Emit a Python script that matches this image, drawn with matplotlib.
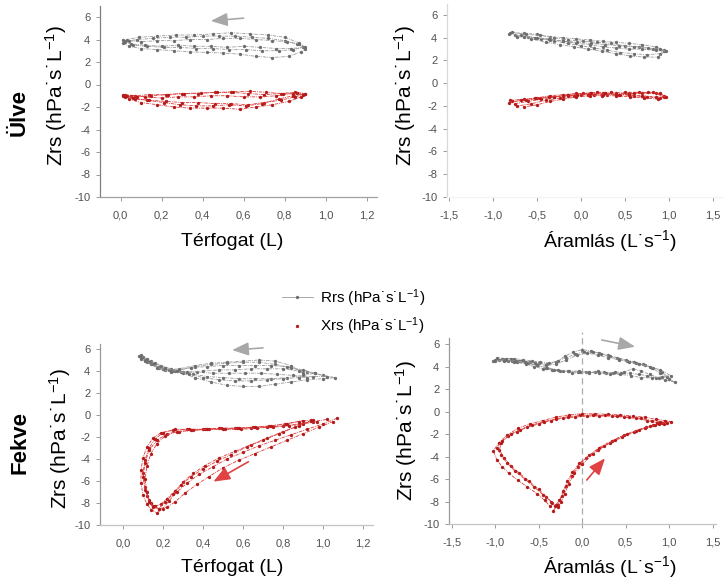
import matplotlib.pyplot as plt
from matplotlib.lines import Line2D
from matplotlib.ticker import FuncFormatter

plt.rcParams['font.family'] = ['Liberation Sans', 'DejaVu Sans']
plt.rcParams['mathtext.default'] = 'regular'
plt.rcParams['axes.unicode_minus'] = False

# --- data: breath loops, each as (x values, y values) ---
# sitting (Ülve), Zrs against volume
ulve_vol_rrs = [
    ([0.01, 0.04, 0.10, 0.18, 0.26, 0.34, 0.42, 0.50, 0.58, 0.66, 0.74, 0.82, 0.88, 0.90,
      0.86, 0.80, 0.72, 0.64, 0.56, 0.48, 0.40, 0.32, 0.24, 0.16, 0.08, 0.02],
     [3.7, 3.4, 3.2, 3.1, 3.0, 2.9, 2.85, 2.8, 2.7, 2.5, 2.4, 2.5, 2.9, 3.2,
      3.6, 3.9, 4.1, 4.2, 4.3, 4.3, 4.3, 4.2, 4.2, 4.1, 4.0, 3.8]),
    ([0.02, 0.06, 0.13, 0.21, 0.29, 0.37, 0.45, 0.53, 0.61, 0.69, 0.77, 0.84, 0.89,
      0.87, 0.81, 0.74, 0.66, 0.58, 0.50, 0.42, 0.34, 0.26, 0.18, 0.10, 0.04],
     [3.9, 3.5, 3.4, 3.3, 3.3, 3.2, 3.2, 3.1, 3.1, 3.0, 3.0, 3.1, 3.3,
      3.6, 3.8, 3.9, 4.0, 4.1, 4.1, 4.0, 4.0, 3.9, 3.9, 3.8, 3.9]),
    ([0.01, 0.05, 0.12, 0.20, 0.28, 0.36, 0.44, 0.52, 0.60, 0.68, 0.76, 0.83, 0.90,
      0.87, 0.80, 0.72, 0.63, 0.54, 0.45, 0.36, 0.27, 0.18, 0.09, 0.03],
     [4.0, 3.6, 3.5, 3.4, 3.5, 3.4, 3.4, 3.3, 3.4, 3.3, 3.2, 3.2, 3.3,
      3.7, 4.2, 4.4, 4.5, 4.6, 4.5, 4.4, 4.4, 4.3, 4.2, 4.0]),
]
ulve_vol_xrs = [
    ([0.01, 0.04, 0.10, 0.18, 0.26, 0.34, 0.42, 0.50, 0.58, 0.66, 0.74, 0.82, 0.88, 0.90,
      0.85, 0.78, 0.70, 0.62, 0.54, 0.46, 0.38, 0.30, 0.22, 0.14, 0.07, 0.02],
     [-1.0, -1.3, -1.6, -1.8, -2.0, -2.1, -2.1, -2.1, -2.2, -2.0, -1.8, -1.5, -1.1, -0.8,
      -0.7, -0.8, -0.9, -0.8, -0.7, -0.7, -0.8, -0.8, -0.9, -0.9, -1.0, -0.9]),
    ([0.02, 0.07, 0.14, 0.22, 0.30, 0.38, 0.46, 0.54, 0.62, 0.70, 0.78, 0.85, 0.89,
      0.84, 0.76, 0.68, 0.60, 0.52, 0.44, 0.36, 0.28, 0.20, 0.12, 0.05],
     [-1.1, -1.3, -1.4, -1.5, -1.6, -1.6, -1.7, -1.7, -1.8, -1.6, -1.4, -1.1, -0.9,
      -0.8, -1.0, -1.1, -1.1, -1.0, -1.0, -1.1, -1.1, -1.2, -1.1, -1.0]),
    ([0.01, 0.06, 0.13, 0.21, 0.29, 0.37, 0.45, 0.53, 0.61, 0.69, 0.77, 0.84, 0.90,
      0.86, 0.79, 0.71, 0.63, 0.55, 0.47, 0.39, 0.31, 0.23, 0.15, 0.08, 0.03],
     [-0.9, -1.2, -1.4, -1.6, -1.8, -1.9, -1.9, -1.8, -1.9, -1.7, -1.3, -1.0, -0.8,
      -0.75, -0.8, -0.7, -0.6, -0.65, -0.7, -0.75, -0.8, -0.9, -1.0, -1.1, -1.0]),
]

# sitting (Ülve), Zrs against flow
ulve_flow_rrs = [
    ([-0.80, -0.65, -0.50, -0.35, -0.20, -0.05, 0.10, 0.25, 0.40, 0.55, 0.70, 0.85, 0.95,
      0.90, 0.75, 0.60, 0.45, 0.30, 0.15, 0.00, -0.15, -0.30, -0.45, -0.60, -0.75],
     [4.4, 4.4, 4.3, 4.1, 4.0, 3.9, 3.8, 3.7, 3.6, 3.5, 3.4, 3.2, 2.9,
      2.6, 2.5, 2.6, 2.7, 2.9, 3.1, 3.3, 3.5, 3.7, 3.9, 4.1, 4.2]),
    ([-0.78, -0.62, -0.46, -0.30, -0.14, 0.02, 0.18, 0.34, 0.50, 0.66, 0.82, 0.95,
      0.88, 0.72, 0.56, 0.40, 0.24, 0.08, -0.08, -0.24, -0.40, -0.56, -0.72],
     [4.5, 4.3, 4.2, 4.0, 3.8, 3.7, 3.6, 3.5, 3.3, 3.2, 3.0, 2.8,
      2.3, 2.3, 2.4, 2.6, 2.8, 3.0, 3.2, 3.4, 3.6, 3.9, 4.1]),
    ([-0.82, -0.68, -0.52, -0.36, -0.20, -0.04, 0.12, 0.28, 0.44, 0.60, 0.76, 0.90, 0.97,
      0.85, 0.70, 0.55, 0.40, 0.25, 0.10, -0.05, -0.20, -0.35, -0.50, -0.65],
     [4.3, 4.2, 4.0, 3.9, 3.7, 3.6, 3.5, 3.4, 3.3, 3.2, 3.1, 3.0, 2.8,
      2.9, 3.0, 3.0, 3.1, 3.2, 3.4, 3.5, 3.7, 3.8, 4.0, 4.1]),
]
ulve_flow_xrs = [
    ([-0.80, -0.65, -0.50, -0.35, -0.20, -0.05, 0.10, 0.25, 0.40, 0.55, 0.70, 0.85, 0.95,
      0.90, 0.75, 0.60, 0.45, 0.30, 0.15, 0.00, -0.15, -0.30, -0.45, -0.60, -0.75],
     [-1.5, -1.4, -1.3, -1.1, -1.0, -0.9, -0.9, -0.9, -0.9, -0.9, -0.9, -0.9, -1.2,
      -1.3, -1.2, -1.1, -1.0, -1.0, -1.0, -1.0, -1.1, -1.2, -1.4, -1.6, -1.8]),
    ([-0.78, -0.62, -0.46, -0.30, -0.14, 0.02, 0.18, 0.34, 0.50, 0.66, 0.82, 0.95,
      0.88, 0.72, 0.56, 0.40, 0.24, 0.08, -0.08, -0.24, -0.40, -0.56, -0.72],
     [-1.6, -1.5, -1.3, -1.2, -1.0, -0.9, -0.8, -0.8, -0.8, -0.8, -0.8, -1.1,
      -1.4, -1.3, -1.2, -1.1, -1.1, -1.0, -1.1, -1.3, -1.5, -1.8, -2.0]),
    ([-0.82, -0.68, -0.52, -0.36, -0.20, -0.04, 0.12, 0.28, 0.44, 0.60, 0.76, 0.90, 0.97,
      0.85, 0.70, 0.55, 0.40, 0.25, 0.10, -0.05, -0.20, -0.35, -0.50, -0.65],
     [-1.7, -1.5, -1.3, -1.2, -1.1, -1.0, -0.9, -0.9, -1.0, -0.9, -0.8, -0.9, -1.2,
      -1.2, -1.1, -1.0, -1.0, -1.0, -1.1, -1.2, -1.4, -1.6, -1.9, -2.1]),
]

# supine (Fekve), Zrs against volume
fekve_vol_rrs = [
    ([0.08, 0.11, 0.15, 0.20, 0.25, 0.30, 0.36, 0.44, 0.52, 0.60, 0.68, 0.76, 0.84, 0.92, 1.00, 1.06,
      1.00, 0.92, 0.84, 0.76, 0.68, 0.60, 0.52, 0.44, 0.36, 0.28, 0.20, 0.14, 0.09],
     [5.4, 5.0, 4.6, 4.2, 4.0, 3.8, 3.4, 3.0, 2.7, 2.6, 2.6, 2.8, 3.0, 3.2, 3.3, 3.4,
      3.6, 3.9, 4.3, 4.6, 4.8, 4.8, 4.7, 4.6, 4.4, 4.1, 4.2, 4.6, 5.1]),
    ([0.09, 0.13, 0.18, 0.23, 0.29, 0.35, 0.42, 0.50, 0.58, 0.66, 0.74, 0.82, 0.90, 0.96,
      0.90, 0.82, 0.74, 0.66, 0.58, 0.50, 0.42, 0.34, 0.26, 0.18, 0.12],
     [5.2, 4.8, 4.4, 4.1, 3.9, 3.7, 3.5, 3.4, 3.3, 3.3, 3.3, 3.4, 3.6, 3.8,
      4.1, 4.4, 4.5, 4.5, 4.5, 4.5, 4.4, 4.3, 4.0, 4.3, 4.8]),
    ([0.10, 0.14, 0.19, 0.24, 0.30, 0.37, 0.45, 0.53, 0.61, 0.69, 0.77, 0.85, 0.92,
      0.90, 0.84, 0.76, 0.68, 0.60, 0.52, 0.44, 0.36, 0.28, 0.21, 0.15],
     [5.3, 4.9, 4.5, 4.2, 3.9, 3.9, 3.8, 3.8, 3.8, 3.8, 3.7, 3.6, 3.4,
      3.8, 4.5, 4.9, 5.0, 4.9, 4.8, 4.7, 4.5, 4.2, 4.1, 4.6]),
    ([0.09, 0.12, 0.16, 0.21, 0.27, 0.33, 0.40, 0.48, 0.56, 0.64, 0.72, 0.80, 0.88, 0.95, 1.02,
      0.96, 0.88, 0.80, 0.72, 0.64, 0.56, 0.48, 0.40, 0.32, 0.24, 0.17, 0.11],
     [5.5, 5.1, 4.7, 4.3, 4.0, 3.7, 3.4, 3.2, 3.1, 3.1, 3.2, 3.3, 3.4, 3.5, 3.5,
      3.8, 4.0, 4.2, 4.2, 4.2, 4.1, 4.1, 4.0, 3.9, 3.9, 4.3, 4.9]),
]
fekve_vol_xrs = [
    ([1.07, 1.00, 0.92, 0.84, 0.76, 0.68, 0.60, 0.52, 0.45, 0.38, 0.32, 0.27, 0.23, 0.20, 0.17, 0.14,
      0.12, 0.10, 0.09, 0.09, 0.10, 0.12, 0.15, 0.19, 0.25, 0.32, 0.40, 0.48, 0.56, 0.64, 0.72,
      0.80, 0.88, 0.95, 1.02],
     [-0.3, -0.8, -1.3, -1.8, -2.3, -2.8, -3.4, -4.0, -4.7, -5.4, -6.2, -7.0, -7.8, -8.5, -8.9, -8.6,
      -8.1, -7.3, -6.2, -5.0, -3.9, -2.9, -2.1, -1.6, -1.4, -1.3, -1.3, -1.2, -1.2, -1.2, -1.1,
      -1.0, -0.8, -0.6, -0.4]),
    ([0.95, 0.88, 0.80, 0.72, 0.64, 0.56, 0.48, 0.41, 0.35, 0.30, 0.26, 0.22, 0.19, 0.16, 0.14, 0.12,
      0.11, 0.10, 0.11, 0.13, 0.16, 0.20, 0.26, 0.33, 0.41, 0.49, 0.57, 0.65, 0.73, 0.81, 0.88, 0.94],
     [-0.45, -1.0, -1.5, -2.1, -2.7, -3.3, -3.9, -4.6, -5.3, -6.1, -6.9, -7.6, -8.1, -8.3, -8.0, -7.4,
      -6.5, -5.3, -4.1, -3.0, -2.2, -1.6, -1.3, -1.3, -1.3, -1.2, -1.2, -1.1, -1.0, -0.8, -0.6, -0.45]),
    ([1.05, 0.98, 0.90, 0.82, 0.74, 0.66, 0.58, 0.50, 0.43, 0.37, 0.31, 0.26, 0.22, 0.18, 0.15, 0.13,
      0.11, 0.10, 0.11, 0.13, 0.17, 0.22, 0.28, 0.35, 0.43, 0.51, 0.59, 0.67, 0.75, 0.83, 0.90, 0.97],
     [-0.6, -1.1, -1.7, -2.3, -2.9, -3.5, -4.1, -4.8, -5.6, -6.3, -7.1, -7.9, -8.4, -8.5, -8.3, -7.7,
      -6.8, -5.6, -4.4, -3.2, -2.3, -1.7, -1.5, -1.4, -1.3, -1.3, -1.3, -1.2, -1.1, -1.0, -0.8, -0.6]),
    ([0.94, 0.86, 0.78, 0.70, 0.62, 0.54, 0.47, 0.40, 0.34, 0.29, 0.25, 0.21, 0.18, 0.15, 0.13, 0.12,
      0.11, 0.12, 0.14, 0.17, 0.21, 0.27, 0.34, 0.42, 0.50, 0.58, 0.66, 0.74, 0.82, 0.90],
     [-0.5, -1.1, -1.7, -2.3, -2.9, -3.6, -4.2, -4.9, -5.6, -6.4, -7.2, -7.9, -8.5, -8.4, -7.9, -7.0,
      -5.8, -4.6, -3.5, -2.6, -1.9, -1.5, -1.4, -1.3, -1.3, -1.2, -1.1, -1.0, -0.8, -0.5]),
]

# supine (Fekve), Zrs against flow
fekve_flow_rrs = [
    ([-1.00, -0.90, -0.80, -0.70, -0.60, -0.50, -0.40, -0.30, -0.20, -0.10, 0.00, 0.10, 0.20, 0.30,
      0.40, 0.50, 0.60, 0.70, 0.80, 0.90, 1.00, 1.07, 0.95, 0.85, 0.75, 0.65, 0.55, 0.45, 0.35, 0.25,
      0.15, 0.05, -0.05, -0.15, -0.25, -0.35, -0.45, -0.55, -0.65, -0.75, -0.85, -0.95],
     [4.6, 4.6, 4.5, 4.5, 4.4, 4.3, 4.2, 4.4, 4.9, 5.3, 5.5, 5.4, 5.2, 5.0,
      4.8, 4.6, 4.4, 4.2, 3.9, 3.4, 2.9, 2.6, 2.8, 3.0, 3.2, 3.3, 3.4, 3.4, 3.4, 3.5,
      3.5, 3.5, 3.5, 3.6, 3.6, 3.7, 3.8, 4.0, 4.2, 4.4, 4.5, 4.6]),
    ([-0.98, -0.88, -0.78, -0.68, -0.58, -0.48, -0.38, -0.28, -0.18, -0.08, 0.02, 0.12, 0.22, 0.32,
      0.42, 0.52, 0.62, 0.72, 0.82, 0.92, 0.98, 0.88, 0.78, 0.68, 0.58, 0.48, 0.38, 0.28, 0.18, 0.08,
      -0.02, -0.12, -0.22, -0.32, -0.42, -0.52, -0.62, -0.72, -0.82, -0.92],
     [4.8, 4.7, 4.7, 4.6, 4.5, 4.4, 4.3, 4.5, 4.8, 5.1, 5.3, 5.3, 5.1, 4.9,
      4.7, 4.5, 4.3, 4.1, 3.9, 3.5, 3.1, 3.0, 3.3, 3.6, 3.8, 3.5, 3.5, 3.4, 3.6, 3.4,
      3.5, 3.4, 3.6, 3.7, 3.9, 4.1, 4.3, 4.5, 4.7, 4.7]),
    ([-1.02, -0.90, -0.78, -0.66, -0.54, -0.42, -0.30, -0.18, -0.06, 0.06, 0.18, 0.30, 0.42, 0.54,
      0.66, 0.78, 0.90, 1.02, 0.92, 0.80, 0.68, 0.56, 0.44, 0.32, 0.20, 0.08, -0.04, -0.16, -0.28,
      -0.40, -0.52, -0.64, -0.76, -0.88, -1.00],
     [4.5, 4.5, 4.4, 4.4, 4.3, 4.1, 4.2, 4.6, 5.0, 5.2, 5.0, 4.8, 4.6, 4.4,
      4.2, 4.0, 3.7, 3.2, 3.1, 3.0, 3.0, 3.2, 3.3, 3.3, 3.4, 3.5, 3.6, 3.6, 3.7,
      3.9, 4.1, 4.3, 4.5, 4.6, 4.5]),
]
fekve_flow_xrs = [
    ([-0.33, -0.28, -0.23, -0.18, -0.12, -0.05, 0.05, 0.18, 0.32, 0.46, 0.60, 0.72, 0.82, 0.92, 1.02,
      0.95, 0.85, 0.72, 0.58, 0.44, 0.30, 0.15, 0.00, -0.15, -0.30, -0.45, -0.60, -0.74, -0.86,
      -0.96, -1.02, -0.98, -0.92, -0.84, -0.74, -0.63, -0.52, -0.43, -0.37],
     [-8.8, -8.3, -7.5, -6.6, -5.7, -4.9, -4.1, -3.4, -2.8, -2.3, -1.8, -1.5, -1.2, -1.0, -0.9,
      -0.8, -0.7, -0.5, -0.4, -0.3, -0.25, -0.2, -0.2, -0.3, -0.5, -0.8, -1.1, -1.5, -2.1,
      -2.8, -3.5, -4.3, -4.9, -5.5, -6.1, -6.7, -7.3, -7.9, -8.4]),
    ([-0.30, -0.26, -0.22, -0.17, -0.11, -0.03, 0.08, 0.20, 0.34, 0.48, 0.62, 0.74, 0.84, 0.94,
      0.86, 0.75, 0.62, 0.48, 0.34, 0.20, 0.06, -0.08, -0.22, -0.36, -0.50, -0.63, -0.75, -0.85,
      -0.93, -0.95, -0.90, -0.82, -0.72, -0.61, -0.50, -0.41, -0.34],
     [-8.3, -7.9, -7.1, -6.2, -5.4, -4.6, -3.9, -3.2, -2.6, -2.1, -1.7, -1.4, -1.2, -1.1,
      -1.0, -0.8, -0.6, -0.5, -0.4, -0.4, -0.4, -0.5, -0.6, -0.8, -1.1, -1.4, -1.8, -2.2,
      -2.8, -3.4, -4.1, -4.8, -5.5, -6.2, -6.9, -7.6, -8.1]),
    ([-0.28, -0.24, -0.20, -0.15, -0.09, 0.00, 0.12, 0.25, 0.38, 0.52, 0.66, 0.78, 0.88, 0.98,
      0.90, 0.80, 0.68, 0.54, 0.40, 0.26, 0.12, -0.02, -0.16, -0.30, -0.44, -0.58, -0.71, -0.82,
      -0.92, -0.98, -0.93, -0.86, -0.77, -0.66, -0.55, -0.45, -0.36, -0.31],
     [-8.5, -8.0, -7.3, -6.4, -5.5, -4.7, -3.8, -3.1, -2.5, -2.0, -1.6, -1.3, -1.1, -1.0,
      -0.9, -0.8, -0.6, -0.5, -0.4, -0.35, -0.3, -0.35, -0.45, -0.65, -0.9, -1.2, -1.6, -2.0,
      -2.6, -3.2, -3.9, -4.6, -5.3, -6.0, -6.7, -7.4, -8.0, -8.4]),
]

y_ticks = [-10, -8, -6, -4, -2, 0, 2, 4, 6]
vol_ticks = [0.0, 0.2, 0.4, 0.6, 0.8, 1.0, 1.2]
flow_ticks = [-1.5, -1.0, -0.5, 0.0, 0.5, 1.0, 1.5]

GREY, GREY_DOT = '#9a9a9a', '#6e6e6e'
RED, RED_DOT = '#dd3a3a', '#b51a1a'
W, H = 727, 582

zrs_label = 'Zrs (hPa˙s˙L$^{-1}$)'
vol_label = 'Térfogat (L)'
flow_label = 'Áramlás (L˙s$^{-1}$)'


def rect(left, right, top, bottom):
    return [left / W, 1 - bottom / H, (right - left) / W, (bottom - top) / H]


def draw_loops(ax, loops, color, dot):
    for x, y in loops:
        ax.plot(x, y, color=color, lw=0.6, ls=(0, (4, 1.2, 1, 1.2)),
                marker='o', ms=2.4, mew=0, mfc=dot)


def style(ax, xlim, xticks, ylim, left_col='#9a9a9a', bottom_col='#c4c4c4'):
    ax.set_xlim(*xlim)
    ax.set_ylim(*ylim)
    ax.set_xticks(xticks)
    ax.set_yticks(y_ticks)
    ax.xaxis.set_major_formatter(FuncFormatter(lambda v, p: f'{v:.1f}'.replace('.', ',')))
    ax.yaxis.set_major_formatter(FuncFormatter(lambda v, p: f'{v:.0f}'))
    for s in ['top', 'right']:
        ax.spines[s].set_visible(False)
    ax.spines['left'].set_color(left_col)
    ax.spines['bottom'].set_color(bottom_col)
    ax.spines['left'].set_linewidth(0.9)
    ax.spines['bottom'].set_linewidth(0.9)
    ax.tick_params(axis='both', length=3, width=0.7, color='#9a9a9a',
                   labelsize=8, labelcolor='#505050')
    ax.tick_params(axis='x', pad=7)
    ax.tick_params(axis='y', pad=4)


def arrow(ax, tail, head, color):
    ax.annotate('', xy=head, xytext=tail,
                arrowprops=dict(arrowstyle='-|>,head_length=1.0,head_width=0.4',
                                color=color, lw=1.2, shrinkA=0, shrinkB=0))


fig = plt.figure(figsize=(W / 100, H / 100), dpi=100)

ax_tl = fig.add_axes(rect(100, 377, 5.75, 197))
ax_tr = fig.add_axes(rect(447, 722, 3.6, 197))
ax_bl = fig.add_axes(rect(100, 373, 343.5, 525))
ax_br = fig.add_axes(rect(449, 716, 338.4, 524))

draw_loops(ax_tl, ulve_vol_rrs, GREY, GREY_DOT)
draw_loops(ax_tl, ulve_vol_xrs, RED, RED_DOT)
draw_loops(ax_tr, ulve_flow_rrs, GREY, GREY_DOT)
draw_loops(ax_tr, ulve_flow_xrs, RED, RED_DOT)
draw_loops(ax_bl, fekve_vol_rrs, GREY, GREY_DOT)
draw_loops(ax_bl, fekve_vol_xrs, RED, RED_DOT)
draw_loops(ax_br, fekve_flow_rrs, GREY, GREY_DOT)
draw_loops(ax_br, fekve_flow_xrs, RED, RED_DOT)

style(ax_tl, (-0.1, 1.25), vol_ticks, (-10, 7), left_col='#808080', bottom_col='#a0a0a0')
style(ax_tr, (-1.52, 1.605), flow_ticks, (-10, 7), left_col='#d8d8d8', bottom_col='#f2f2f2')
style(ax_bl, (-0.115, 1.25), vol_ticks, (-10, 6.5))
style(ax_br, (-1.53, 1.54), flow_ticks, (-10, 6.5))

# zero-flow reference line
ax_br.plot([0, 0], [-10, 7.1], color='#aaaaaa', lw=0.9, ls=(0, (5, 3)), clip_on=False, zorder=0)

# direction arrows
arrow(ax_tl, (0.60, 5.9), (0.44, 5.65), '#a8a8a8')
arrow(ax_bl, (0.70, 6.1), (0.545, 5.9), '#a8a8a8')
arrow(ax_bl, (0.627, -4.25), (0.452, -6.06), '#e04343')
arrow(ax_br, (0.226, 6.36), (0.61, 5.76), '#a8a8a8')
arrow(ax_br, (0.054, -6.09), (0.264, -4.16), '#e04343')

# axis titles
for x, y in [(56, 95), (405, 95), (60, 438), (406, 430)]:
    fig.text(x / W, 1 - y / H, zrs_label, rotation=90, ha='center', va='center', fontsize=15)
fig.text(232 / W, 1 - 241 / H, vol_label, ha='center', va='center', fontsize=14)
fig.text(610 / W, 1 - 241 / H, flow_label, ha='center', va='center', fontsize=14)
fig.text(232 / W, 1 - 567 / H, vol_label, ha='center', va='center', fontsize=14)
fig.text(610 / W, 1 - 567 / H, flow_label, ha='center', va='center', fontsize=14)

# row titles
fig.text(19 / W, 1 - 113 / H, 'Ülve', rotation=90, ha='center', va='center',
         fontsize=16, fontweight='bold')
fig.text(20 / W, 1 - 443 / H, 'Fekve', rotation=90, ha='center', va='center',
         fontsize=16, fontweight='bold')

handles = [
    Line2D([], [], color=GREY, lw=0.6, marker='o', ms=2.4, mew=0, mfc=GREY_DOT),
    Line2D([], [], color=RED, ls='none', marker='o', ms=2.4, mew=0, mfc=RED_DOT),
]
fig.legend(handles, ['Rrs (hPa˙s˙L$^{-1}$)', 'Xrs (hPa˙s˙L$^{-1}$)'],
           loc='upper left', bbox_to_anchor=(282 / W, 1 - 287 / H), frameon=False,
           fontsize=11, handlelength=2.0, handletextpad=0.5, labelspacing=0.45,
           borderpad=0, borderaxespad=0)

fig.savefig('out.png', dpi=100)
